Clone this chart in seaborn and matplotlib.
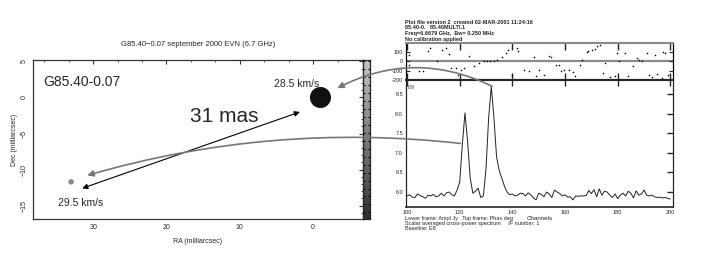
import numpy as np
import pandas as pd
import matplotlib
matplotlib.use("Agg")
import matplotlib.pyplot as plt
import seaborn as sns
from matplotlib.patches import ConnectionPatch
from matplotlib.ticker import MultipleLocator

# ---- data: maser map (left) ----
spot_ra = [-1.0, 33.0]          # milliarcsec
spot_dec = [0.0, -11.7]
spot_kind = ["28.5 km/s", "29.5 km/s"]
label_ra = [2.2, 31.7]
label_dec = [1.85, -14.7]
sep_start = (31.5, -12.6)
sep_end = (1.8, -2.0)

# ---- data: spectrum (right) ----
channels = list(range(100, 201))
amplitude = [
    5.90, 5.93, 5.87, 5.86, 5.95, 5.91, 5.88, 5.84, 5.92, 5.90,
    5.94, 5.88, 5.90, 5.97, 5.90, 5.98, 6.00, 5.93, 5.90, 6.05,
    6.25, 7.20, 8.02, 7.30, 6.35, 5.97, 6.02, 6.10, 5.86, 5.90,
    6.60, 7.90, 8.70, 7.90, 6.90, 6.55, 6.35, 6.15, 6.00, 5.93,
    5.95, 5.90, 5.92, 5.97, 5.96, 5.90, 5.98, 5.93, 5.85, 5.80,
    5.97, 5.94, 5.88, 6.00, 5.95, 5.86, 6.05, 6.00, 5.96, 5.90,
    5.93, 5.87, 5.88, 5.80, 5.90, 5.89, 5.90, 5.90, 5.91, 6.04,
    5.96, 6.06, 5.88, 6.08, 5.92, 6.02, 6.00, 5.92, 5.86, 5.95,
    5.83, 5.92, 5.97, 5.90, 6.02, 5.97, 5.85, 6.03, 5.92, 5.95,
    6.05, 5.92, 5.90, 5.92, 5.88, 5.86, 5.87, 5.85, 5.86, 5.84, 5.82,
]
phase_channels = [
    100.6, 100.8, 104.6, 105.9, 108.1, 108.6, 111.5, 113.4, 114.7, 116.0,
    116.6, 118.7, 119.3, 120.4, 121.6, 123.5, 125.4, 127.3, 129.2, 130.5,
    131.7, 133.0, 134.2, 136.1, 137.4, 138.4, 139.7, 141.8, 142.2, 144.4,
    146.3, 148.4, 148.8, 150.3, 152.0, 153.9, 154.5, 156.4, 157.7, 158.3,
    159.6, 161.5, 163.0, 163.8, 165.5, 166.5, 168.3, 168.9, 170.2, 171.4,
    172.1, 173.3, 174.6, 175.2, 177.1, 179.0, 179.6, 180.6, 182.8, 184.1,
    186.0, 187.2, 187.9, 189.1, 191.0, 192.0, 192.9, 194.2, 194.8, 196.7,
    197.3, 197.9, 199.2,
]
phase_deg = [
    71, -35, -99, -99, 117, 142, 7, 124, 142, 79,
    -70, -70, -141, -88, -70, 61, -46, -17, 0, 0,
    0, 0, 18, 53, 89, 124, -141, 142, 117, -88,
    -99, 43, -152, -88, -141, 61, 43, -35, -35, -99,
    -88, -88, -117, -160, -35, 18, 106, 117, 124, 131,
    167, 178, -124, -17, -167, -160, 89, 7, 96, -160,
    -53, 35, 18, 7, 89, -141, -167, 71, -134, -177,
    106, 89, -141,
]
arrow_sources = [(120.3, 7.24), (132.3, 8.70)]
arrow_targets = [(30.8, -10.8), (-3.3, 1.3)]

sns.set_style("white")
plt.rcParams["font.family"] = ["Liberation Sans", "DejaVu Sans"]
plt.rcParams["axes.linewidth"] = 0.9

fig = plt.figure(figsize=(7.27, 2.56), dpi=100)
W, H = 727.0, 256.0

def place(x0, y0, x1, y1):
    return fig.add_axes([x0 / W, 1 - y1 / H, (x1 - x0) / W, (y1 - y0) / H])

# ---------------- left: map ----------------
ax = place(33, 60, 363, 219)
spots = pd.DataFrame({"ra": spot_ra, "dec": spot_dec, "kind": spot_kind})
sns.scatterplot(data=spots, x="ra", y="dec", hue="kind", size="kind",
                palette={"28.5 km/s": "#111111", "29.5 km/s": "#8a8a8a"},
                sizes={"28.5 km/s": 230, "29.5 km/s": 16},
                marker="o", legend=False, ax=ax, linewidth=0)
ax.set_xlim(38.2, -6.8)
ax.set_ylim(-16.85, 5.2)
ax.xaxis.set_minor_locator(MultipleLocator(10 / 3))
ax.yaxis.set_minor_locator(MultipleLocator(1))
ax.tick_params(which="both", direction="in", top=True, right=True, labelsize=5,
               color="#333333")
ax.tick_params(which="major", length=3)
ax.tick_params(which="minor", length=1.5)
ax.set_yticks([5, 0, -5, -10, -15])
ax.set_yticklabels(["5", "0", "\u22125", "\u221210", "\u221215"], rotation=90, va="center")
ax.set_xticks([30, 20, 10, 0])
ax.set_xticklabels(["30", "20", "10", "0"])
ax.set_xlabel("RA (milliarcsec)", fontsize=5, labelpad=5)
ax.set_ylabel("Dec (milliarcsec)", fontsize=5, labelpad=2)
ax.set_title("G85.40\u22120.07 september 2000 EVN (6.7 GHz)", fontsize=5.5, pad=10)
for s in ax.spines.values():
    s.set_color("#333333")

ax.text(0.03, 0.862, "G85.40-0.07", transform=ax.transAxes, fontsize=10,
        va="center", ha="left")
ax.text(12.1, -2.6, "31 mas", fontsize=15, ha="center", va="center")
for lx, ly, txt in zip(label_ra, label_dec, spot_kind):
    ax.text(lx, ly, txt, fontsize=7.5, ha="center", va="center")
ax.annotate("", xy=sep_end, xytext=sep_start,
            arrowprops=dict(arrowstyle="<|-|>", color="black", lw=0.8,
                            mutation_scale=8, shrinkA=0, shrinkB=0))

# colour wedge
cax = place(363, 60, 370, 219)
ramp = np.linspace(0.35, 0.85, 60).reshape(-1, 1)
cax.imshow(ramp, aspect="auto", cmap="Greys", vmin=0, vmax=1)
cax.set_xticks([])
cax.set_yticks(np.arange(0, 60, 3))
cax.tick_params(axis="y", direction="in", length=1.5, left=True, right=True,
                labelleft=False, color="black")

# ---------------- right: phase ----------------
axp = place(405.7, 42.7, 673, 80)
sns.scatterplot(x=phase_channels, y=phase_deg, ax=axp, s=1.3, color="black",
                linewidth=0)
axp.axhline(0, color="#8a8a8a", lw=1.6, zorder=0)
axp.set_xlim(99.5, 201)
axp.set_ylim(-200, 202)
axp.set_xticks([100, 120, 140, 160, 180, 200])
axp.set_yticks([-200, -100, 0, 100])
axp.set_yticklabels(["-200", "-100", "0", "100"])
axp.tick_params(axis="x", direction="in", top=True, bottom=True, length=5,
                labelbottom=False, width=1)
axp.tick_params(axis="y", direction="in", left=True, right=True, length=3,
                labelsize=4, pad=2)
axp.spines["top"].set_color("#8a8a8a")
axp.spines["top"].set_linewidth(1.5)
axp.spines["bottom"].set_linewidth(1.5)
for s in ("left", "right"):
    axp.spines[s].set_color("black")

# ---------------- right: amplitude ----------------
axa = place(405.7, 80, 673, 207.3)
sns.lineplot(x=channels, y=amplitude, ax=axa, color="#222222", lw=0.7)
axa.set_xlim(99.5, 201)
axa.set_ylim(5.61, 8.86)
axa.set_xticks([100, 120, 140, 160, 180, 200])
axa.set_yticks([6.0, 6.5, 7.0, 7.5, 8.0, 8.5])
axa.set_yticklabels(["6.0", "6.5", "7.0", "7.5", "8.0", "8.5"])
axa.tick_params(axis="both", direction="in", top=True, right=True, length=4,
                labelsize=4, pad=2, width=1)
axa.spines["top"].set_linewidth(1.5)
axa.spines["bottom"].set_linewidth(1.2)
axa.set_xlabel("Channels", fontsize=4.5, labelpad=1)
axa.text(0.008, 0.96, "8.9", transform=axa.transAxes, fontsize=3.5, va="top")

header = ["Plot file version 2  created 02-MAR-2001 11:24:16",
          "85.40-0.   85.40MULTI.1",
          "Freq=6.6679 GHz,  Bw= 0.250 MHz",
          "No calibration applied"]
for i, line in enumerate(header):
    fig.text(405 / W, 1 - (22 + 5.8 * i) / H, line, fontsize=4, weight="bold",
             va="center", ha="left")
footer = ["Lower frame: Ampl Jy   Top frame: Phas deg",
          "Scalar averaged cross-power spectrum     IF number: 1",
          "Baseline: E8"]
for i, line in enumerate(footer):
    fig.text(405 / W, 1 - (218.5 + 5 * i) / H, line, fontsize=4,
             va="center", ha="left")

# ---------------- connecting arrows ----------------
for src, target, rad in zip(arrow_sources, arrow_targets, [0.1, 0.25]):
    con = ConnectionPatch(xyA=src, coordsA=axa.transData,
                          xyB=target, coordsB=ax.transData,
                          arrowstyle="-|>", color="#777777", lw=1.2,
                          mutation_scale=9, connectionstyle=f"arc3,rad={rad}",
                          shrinkA=0, shrinkB=0)
    fig.add_artist(con)

fig.savefig("out.png", dpi=100)
